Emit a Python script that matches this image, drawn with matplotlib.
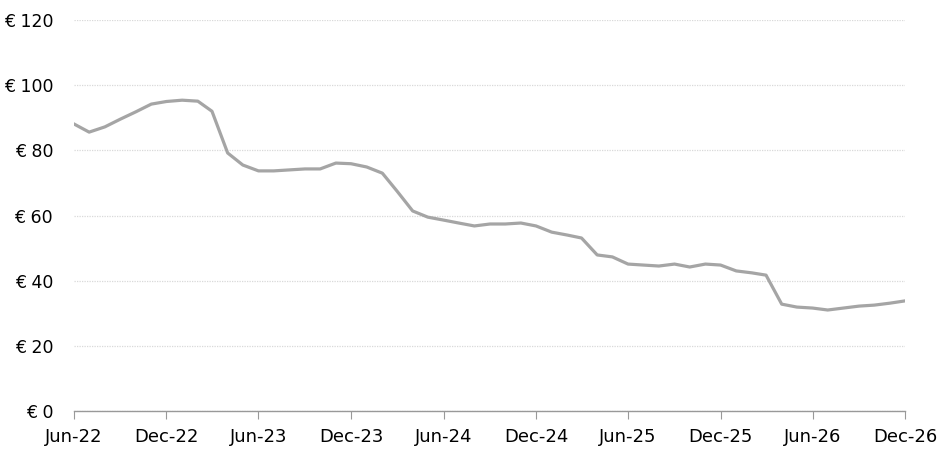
import pandas as pd
import matplotlib
matplotlib.use('Agg')
import matplotlib.pyplot as plt
import matplotlib.dates as mdates

# monthly price, Jun-22 .. Dec-26
months = pd.date_range('2022-06-01', '2026-12-01', freq='MS')
prices = [88.1, 85.6, 87.2, 89.6, 91.8, 94.2, 95.0, 95.4, 95.1, 92.0,
          79.2, 75.5, 73.7, 73.7, 74.0, 74.3, 74.3, 76.1, 75.9, 74.9,
          73.0, 67.5, 61.4, 59.5, 58.6, 57.7, 56.8, 57.4, 57.4, 57.7,
          56.8, 54.9, 54.0, 53.1, 47.9, 47.3, 45.1, 44.8, 44.5, 45.1,
          44.2, 45.1, 44.8, 43.0, 42.4, 41.7, 32.8, 31.9, 31.6, 31.0,
          31.6, 32.2, 32.5, 33.1, 33.8]
yticks = [0, 20, 40, 60, 80, 100, 120]
tick_months = pd.date_range('2022-06-01', '2026-12-01', freq='6MS')

plt.rcParams['font.family'] = ['DejaVu Sans']
fig = plt.figure(figsize=(9.52, 4.66), dpi=100)
ax = fig.add_axes([0.0777, 0.118, 0.873, 0.839])

ax.plot(months, prices, color='#a5a5a5', linewidth=2.3, solid_joinstyle='round')

ax.set_ylim(0, 120)
ax.set_xlim(months[0], months[-1])
ax.set_yticks(yticks)
ax.set_yticklabels(['€ %d' % v for v in yticks])
ax.set_xticks(tick_months)
ax.xaxis.set_major_formatter(mdates.DateFormatter('%b-%y'))

ax.grid(axis='y', color='#d9d9d9', linestyle=(0, (1, 1)), linewidth=0.9)
ax.set_axisbelow(True)
for s in ['top', 'right', 'left']:
	ax.spines[s].set_visible(False)
ax.spines['bottom'].set_color('#999999')
ax.spines['bottom'].set_linewidth(1.0)
ax.tick_params(axis='y', length=0, pad=15, labelsize=12.5, colors='#000000')
ax.tick_params(axis='x', length=6, color='#999999', pad=6, labelsize=13)

fig.savefig('out.png', dpi=100)
